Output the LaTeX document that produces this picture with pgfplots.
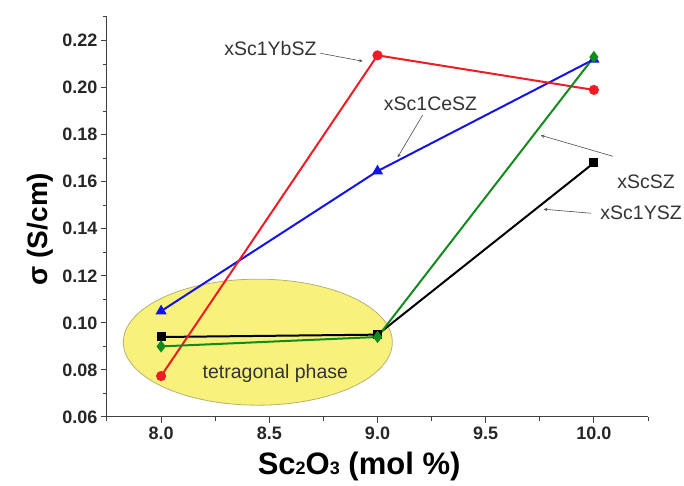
\documentclass[border=0pt]{standalone}
\usepackage{fontspec}
\setmainfont{Liberation Sans}
\usepackage{pgfplots}
\pgfplotsset{compat=1.18}
\definecolor{cred}{HTML}{EE1C24}
\definecolor{cblue}{HTML}{1414E6}
\definecolor{cgreen}{HTML}{138A1E}
\definecolor{ellfill}{HTML}{F8F27C}
\definecolor{elldraw}{HTML}{B8B070}
\definecolor{anno}{HTML}{333333}
\begin{document}
\begin{tikzpicture}
\path[use as bounding box] (-107pt,-69pt) rectangle (577pt,417pt);
\begin{axis}[
  at={(0,0)}, anchor=south west,
  scale only axis, width=541pt, height=400pt,
  xmin=7.75, xmax=10.25, ymin=0.06, ymax=0.23,
  axis x line*=bottom, axis y line*=left,
  axis line style={line width=1pt, color=black!75},
  xtick={8,8.5,9,9.5,10}, minor xtick={7.75,8.25,8.75,9.25,9.75,10.25},
  ytick={0.06,0.08,...,0.22}, minor ytick={0.07,0.09,...,0.23},
  tick align=outside, major tick length=6pt, minor tick length=4pt,
  every tick/.style={line width=1pt, color=black!75},
  /pgf/number format/assume math mode=true,
  xticklabel style={/pgf/number format/.cd, fixed, fixed zerofill, precision=1},
  yticklabel style={/pgf/number format/.cd, fixed, fixed zerofill, precision=2},
  tick label style={font=\fontsize{18}{20}\selectfont\bfseries, color=black!85},
  xlabel={\textbf{Sc{\fontsize{18}{20}\selectfont 2}O{\fontsize{18}{20}\selectfont 3} (mol \%)}},
  ylabel={\textbf{σ (S/cm)}},
  xlabel style={font=\fontsize{31}{33}\selectfont, at={(axis description cs:0.466,-0.1225)}, anchor=center},
  ylabel style={font=\fontsize{28}{30}\selectfont, at={(axis description cs:-0.124,0.47)}, anchor=center},
  clip=false,
]
\draw[fill=ellfill, draw=elldraw, line width=0.8pt] (axis cs:8.447,0.0918) ellipse [x radius=134.5pt, y radius=63pt];
\node[font=\fontsize{19.5}{21}\selectfont, color=anno] at (axis cs:8.528,0.0787) {tetragonal phase};

\addplot[black, line width=2pt, mark=square*, mark size=3.5pt] coordinates {(8,0.094) (9,0.095) (10,0.168)};
\addplot[cblue, line width=2pt, mark=triangle*, mark size=4.5pt] coordinates {(8,0.105) (9,0.1645) (10,0.212)};
\addplot[cred, line width=2pt, mark=*, mark size=4pt] coordinates {(8,0.0774) (9,0.2137) (10,0.199)};
\addplot[cgreen, line width=2pt, mark=diamond*, mark size=4.5pt] coordinates {(8,0.090) (9,0.094) (10,0.213)};

\node[font=\fontsize{19.5}{21}\selectfont, color=anno] at (axis cs:8.505,0.2167) {xSc1YbSZ};
\draw[->, >=stealth, color=black!70, line width=0.6pt] (axis cs:8.736,0.2146) -- (axis cs:8.931,0.2112);
\node[font=\fontsize{19.5}{21}\selectfont, color=anno] at (axis cs:9.245,0.1933) {xSc1CeSZ};
\draw[->, >=stealth, color=black!70, line width=0.6pt] (axis cs:9.208,0.1882) -- (axis cs:9.093,0.1704);
\node[font=\fontsize{19.5}{21}\selectfont, color=anno] at (axis cs:10.241,0.16) {xScSZ};
\draw[->, >=stealth, color=black!70, line width=0.6pt] (axis cs:10.088,0.1708) -- (axis cs:9.755,0.1797);
\node[font=\fontsize{19.5}{21}\selectfont, color=anno] at (axis cs:10.218,0.1466) {xSc1YSZ};
\draw[->, >=stealth, color=black!70, line width=0.6pt] (axis cs:9.986,0.1466) -- (axis cs:9.768,0.1483);
\end{axis}
\end{tikzpicture}
\end{document}
